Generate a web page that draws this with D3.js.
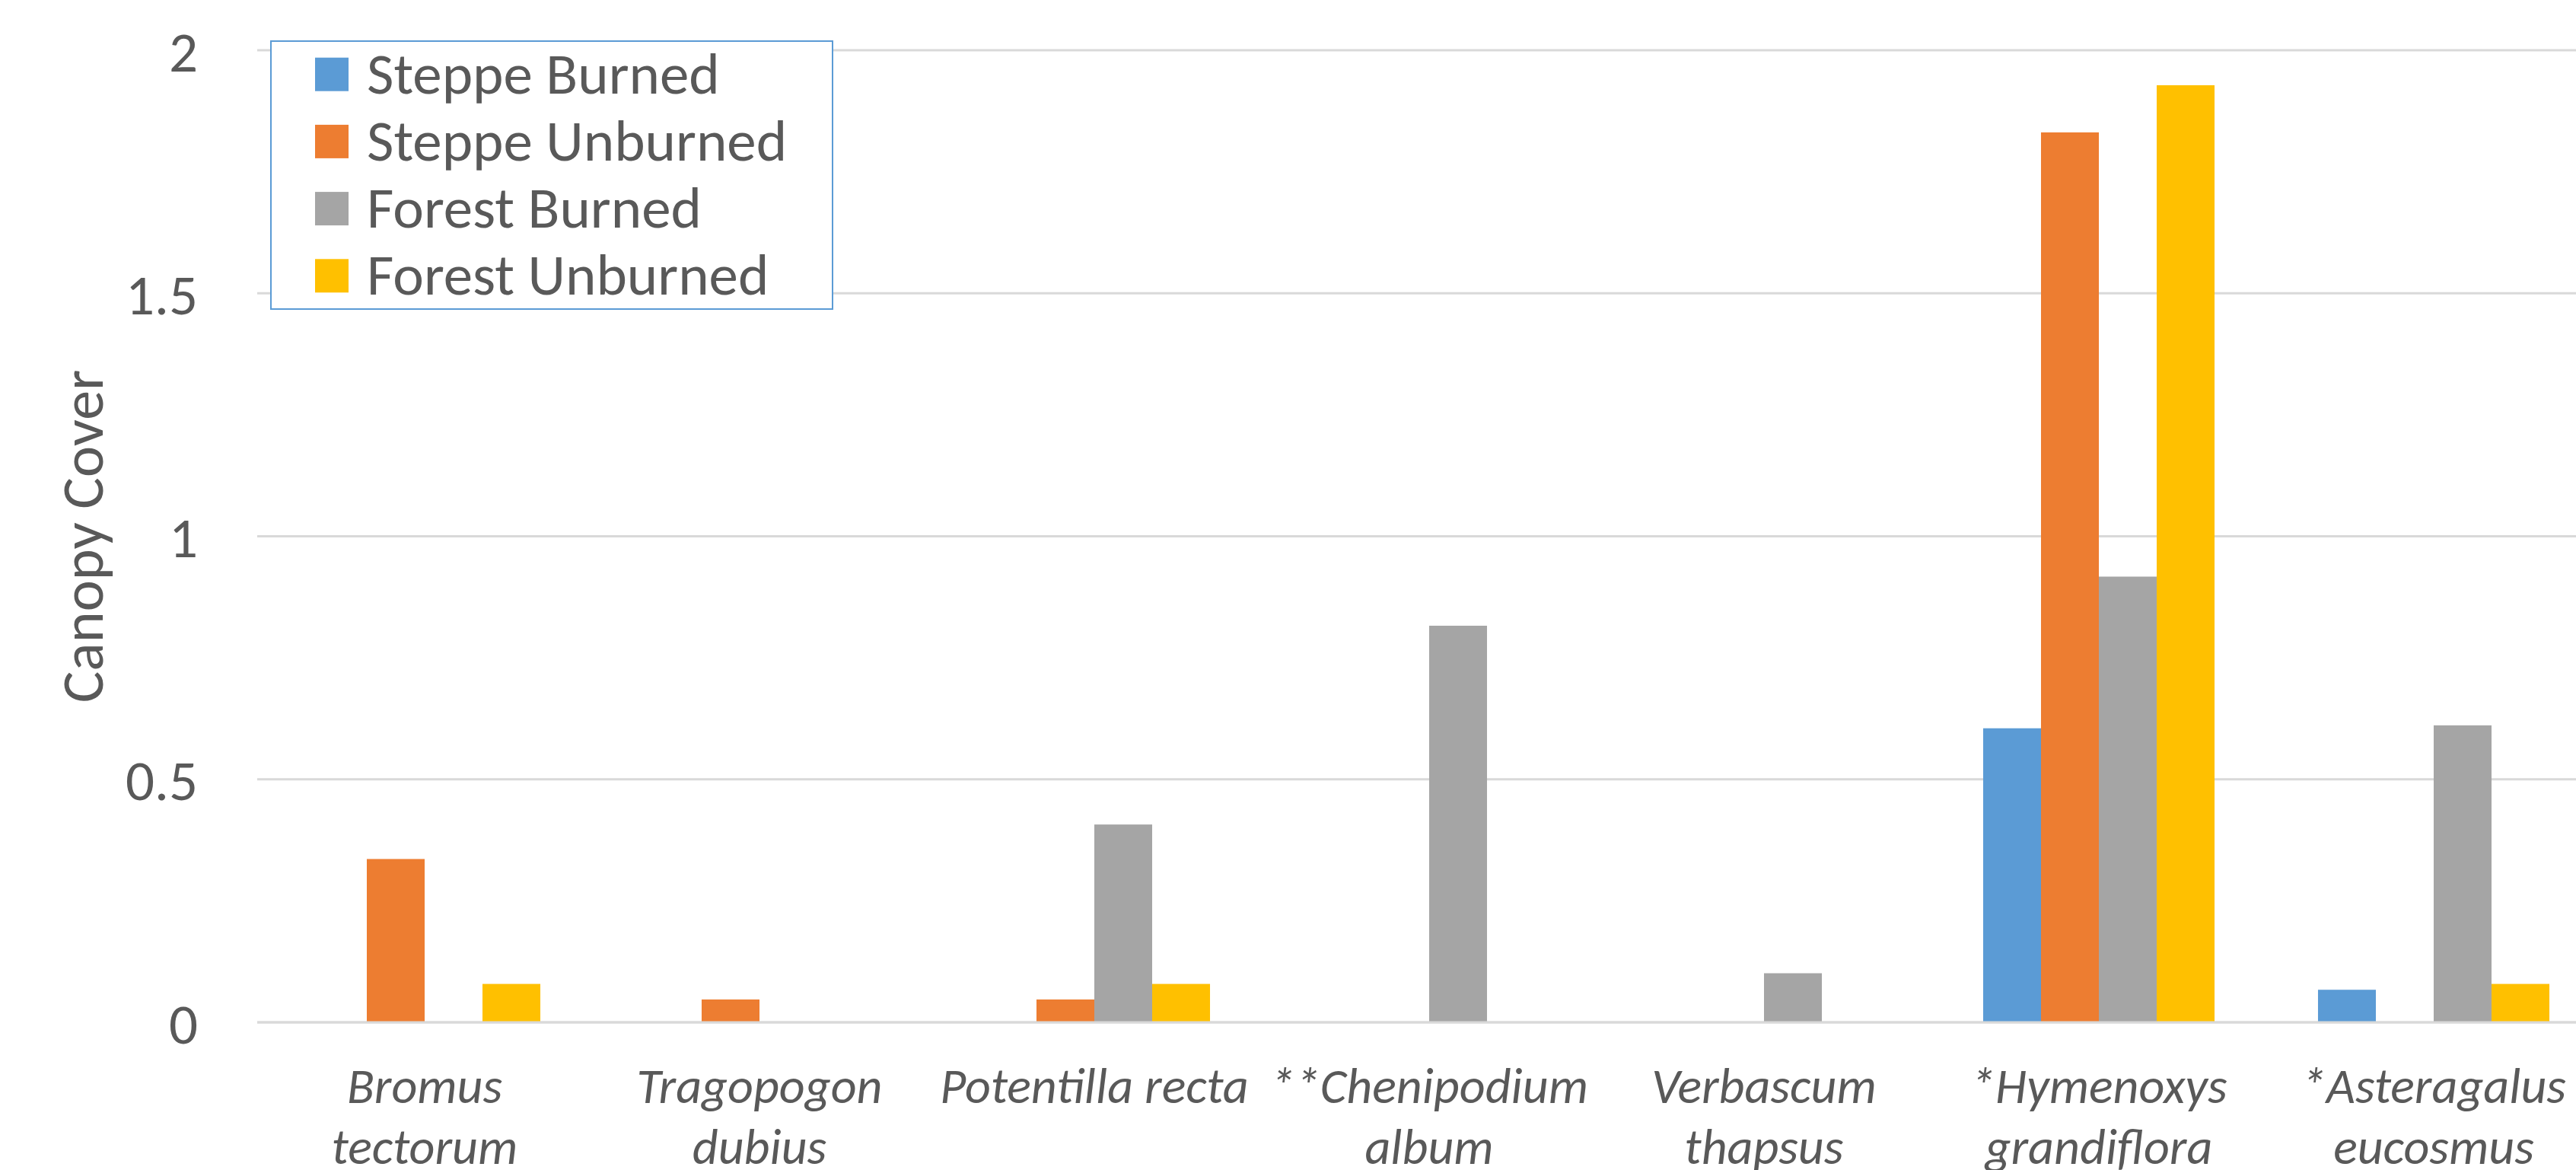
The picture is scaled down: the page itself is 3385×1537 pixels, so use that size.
<!DOCTYPE html>
<html>
<head>
<meta charset="utf-8">
<script src="https://cdn.jsdelivr.net/npm/d3@7/dist/d3.min.js"></script>
<style>
  html, body { margin: 0; padding: 0; background: #ffffff; overflow: hidden; }
  svg { display: block; }
  text { font-family: Carlito, Lato, "Open Sans", sans-serif; fill: #595959; }
</style>
</head>
<body>
<svg id="chart" width="3385" height="1537"></svg>
<script>
// Species (line breaks mark where the axis label wraps)
const categories = [
  "Bromus\ntectorum",
  "Tragopogon\ndubius",
  "Potentilla recta",
  "**Chenipodium\nalbum",
  "Verbascum\nthapsus",
  "*Hymenoxys\ngrandiflora",
  "*Asteragalus\neucosmus"
];

const seriesNames = ["Steppe Burned", "Steppe Unburned", "Forest Burned", "Forest Unburned"];
const seriesColors = ["#5B9BD5", "#ED7D31", "#A5A5A5", "#FFC000"];

// Canopy cover per species, one array per treatment
const steppeBurned   = [0,     0,     0,     0,     0,     0.605, 0.067];
const steppeUnburned = [0.336, 0.047, 0.047, 0,     0,     1.831, 0];
const forestBurned   = [0,     0,     0.407, 0.816, 0.101, 0.917, 0.611];
const forestUnburned = [0.079, 0,     0.079, 0,     0,     1.928, 0.079];

const yTicks = [0, 0.5, 1, 1.5, 2];
const yTitle = "Canopy Cover";

const seriesValues = [steppeBurned, steppeUnburned, forestBurned, forestUnburned];

const svg = d3.select("#chart");

const plot = { left: 338, right: 3418, top: 66, bottom: 1343 };

const x0 = d3.scaleBand()
  .domain(d3.range(categories.length))
  .range([plot.left, plot.right])
  .paddingInner(0.309)
  .paddingOuter(0.1545);

const x1 = d3.scaleBand()
  .domain(d3.range(seriesNames.length))
  .range([0, x0.bandwidth()])
  .padding(0);

const y = d3.scaleLinear()
  .domain([0, 2])
  .range([plot.bottom, plot.top]);

// Horizontal gridlines
svg.append("g")
  .selectAll("line")
  .data(yTicks)
  .join("line")
  .attr("x1", plot.left)
  .attr("x2", 3385)
  .attr("y1", d => y(d))
  .attr("y2", d => y(d))
  .attr("stroke", "#D9D9D9")
  .attr("stroke-width", 3);

// Y tick labels
const yAxis = d3.axisLeft(y).tickValues(yTicks).tickSize(0).tickPadding(0)
  .tickFormat(d => String(d));
const yg = svg.append("g")
  .attr("transform", `translate(260,0)`)
  .call(yAxis);
yg.select(".domain").remove();
yg.selectAll("text")
  .attr("font-size", 75)
  .attr("fill", "#595959")
  .attr("dy", "0.36em")
  .style("font-family", "Carlito, Lato, sans-serif");

// Bars
const rows = [];
categories.forEach((c, i) => {
  seriesValues.forEach((vals, s) => {
    rows.push({ cat: i, s: s, v: vals[i] });
  });
});

svg.append("g")
  .selectAll("rect")
  .data(rows.filter(d => d.v > 0))
  .join("rect")
  .attr("x", d => x0(d.cat) + x1(d.s))
  .attr("width", x1.bandwidth())
  .attr("y", d => y(d.v))
  .attr("height", d => y(0) - y(d.v))
  .attr("fill", d => seriesColors[d.s]);

// X axis baseline
svg.append("line")
  .attr("x1", plot.left)
  .attr("x2", 3385)
  .attr("y1", y(0))
  .attr("y2", y(0))
  .attr("stroke", "#D9D9D9")
  .attr("stroke-width", 3);

// Category labels
const xl = svg.append("g")
  .selectAll("text")
  .data(categories)
  .join("text")
  .attr("x", (d, i) => x0(i) + x0.bandwidth() / 2)
  .attr("y", 1449)
  .attr("text-anchor", "middle")
  .attr("font-size", 66)
  .attr("font-style", "italic");
xl.each(function (d, i) {
  const lines = d.split("\n");
  const t = d3.select(this);
  lines.forEach((ln, k) => {
    t.append("tspan")
      .attr("x", x0(i) + x0.bandwidth() / 2)
      .attr("y", 1449 + k * 80)
      .text(ln);
  });
});

// Y axis title
svg.append("text")
  .attr("transform", `translate(135,${(plot.top + plot.bottom) / 2}) rotate(-90)`)
  .attr("text-anchor", "middle")
  .attr("font-size", 78)
  .text(yTitle);

// Legend
const legend = svg.append("g");
legend.append("rect")
  .attr("x", 356)
  .attr("y", 54)
  .attr("width", 738)
  .attr("height", 352)
  .attr("fill", "#ffffff")
  .attr("stroke", "#5B9BD5")
  .attr("stroke-width", 2);

const items = legend.selectAll("g.item")
  .data(seriesNames)
  .join("g")
  .attr("class", "item")
  .attr("transform", (d, i) => `translate(0,${97.7 + i * 88.2})`);
items.append("rect")
  .attr("x", 414)
  .attr("y", -22)
  .attr("width", 44)
  .attr("height", 44)
  .attr("fill", (d, i) => seriesColors[i]);
items.append("text")
  .attr("x", 482)
  .attr("y", 25)
  .attr("font-size", 77)
  .text(d => d);
</script>
</body>
</html>
